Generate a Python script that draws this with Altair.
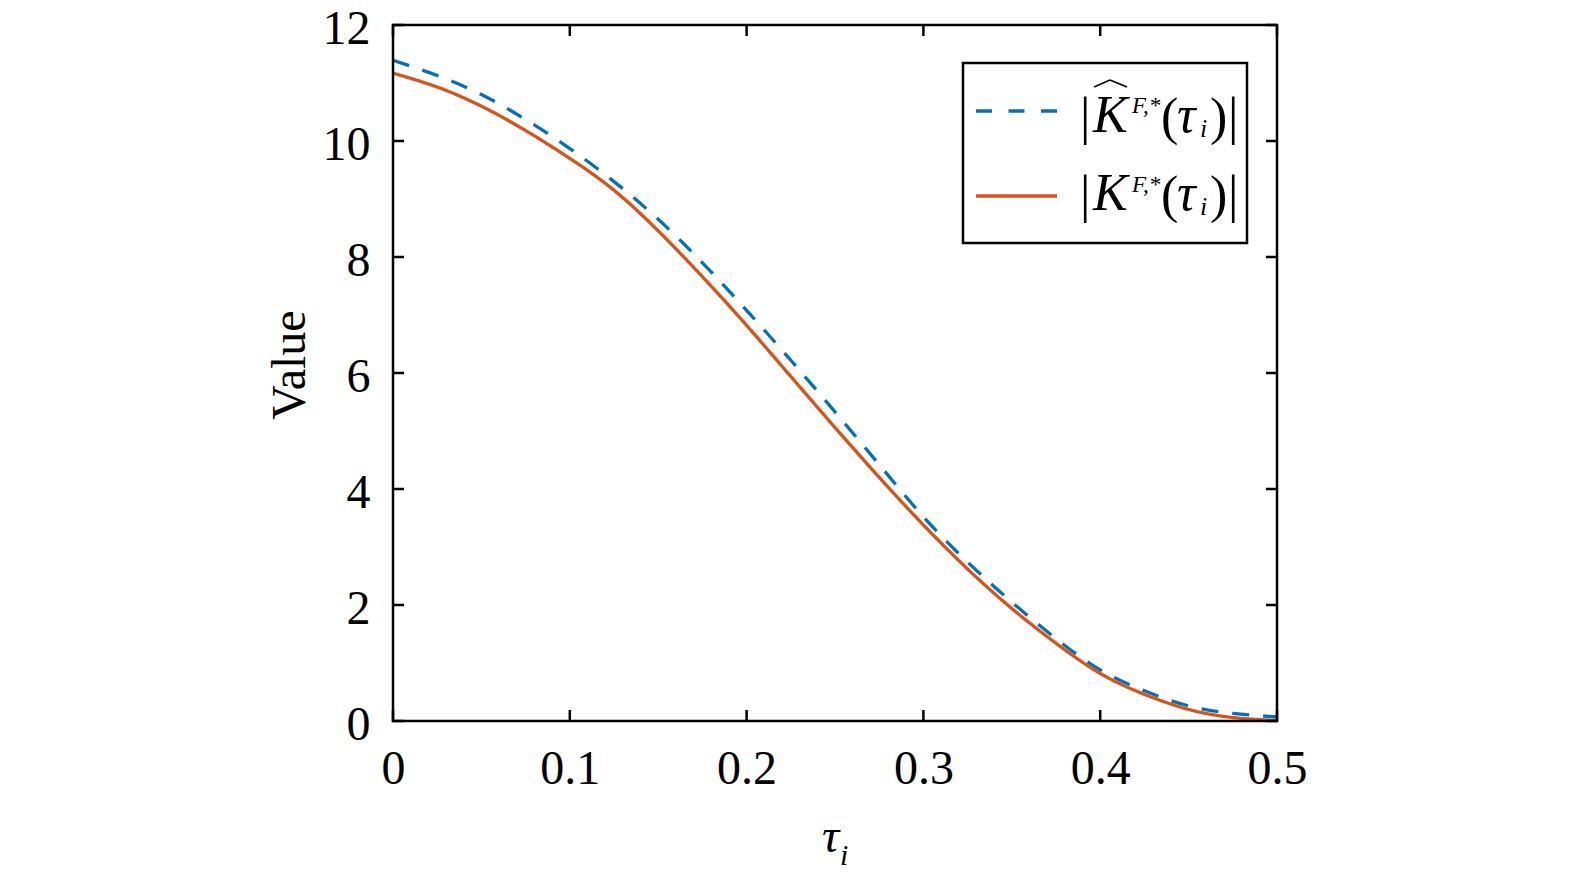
import altair as alt
import pandas as pd

# ---- data ----
tau = [0.0, 0.025, 0.05, 0.075, 0.1, 0.125, 0.15, 0.175, 0.2, 0.225, 0.25,
       0.275, 0.3, 0.325, 0.35, 0.375, 0.4, 0.425, 0.45, 0.475, 0.5]
k_hat = [11.39, 11.13, 10.80, 10.37, 9.87, 9.30, 8.65, 7.90, 7.08, 6.22, 5.33,
         4.42, 3.52, 2.74, 2.05, 1.42, 0.88, 0.52, 0.26, 0.13, 0.07]
k_true = [11.17, 10.93, 10.60, 10.18, 9.70, 9.15, 8.45, 7.66, 6.82, 5.94, 5.06,
          4.20, 3.38, 2.62, 1.94, 1.34, 0.82, 0.46, 0.20, 0.06, 0.01]
x_ticks = [0, 0.1, 0.2, 0.3, 0.4, 0.5]
y_ticks = [0, 2, 4, 6, 8, 10, 12]
series_names = ["khat", "k"]

BLUE = "#0072BD"
ORANGE = "#D95319"
FONT = "Liberation Serif"
W, H = 884, 696
TL = 11  # tick length

df = pd.concat([
    pd.DataFrame({"tau": tau, "value": k_hat, "series": series_names[0]}),
    pd.DataFrame({"tau": tau, "value": k_true, "series": series_names[1]}),
])

xscale = alt.Scale(domain=[0, 0.5], nice=False, zero=False)
yscale = alt.Scale(domain=[0, 12], nice=False)

xaxis = alt.Axis(values=x_ticks, title=None, ticks=False, domain=False, grid=False,
                 labelFont=FONT, labelFontSize=48, labelColor="black",
                 labelPadding=24, labelFlush=False, labelOverlap=False,
                 labelExpr="datum.value == 0 ? '0' : format(datum.value, '.1f')")
yaxis = alt.Axis(values=y_ticks, title=None, ticks=False, domain=False, grid=False,
                 labelFont=FONT, labelFontSize=48, labelColor="black",
                 labelPadding=23, labelFlush=False, labelOverlap=False, format="d",
                 labelBaseline="alphabetic", labelOffset=18)

lines = alt.Chart(df).mark_line(strokeWidth=3.3, interpolate="natural", clip=True).encode(
    x=alt.X("tau:Q", scale=xscale, axis=xaxis),
    y=alt.Y("value:Q", scale=yscale, axis=yaxis),
    color=alt.Color("series:N", scale=alt.Scale(domain=series_names, range=[BLUE, ORANGE]), legend=None),
    strokeDash=alt.StrokeDash("series:N", scale=alt.Scale(domain=series_names, range=[[17, 14], [1, 0]]), legend=None),
    detail="series:N",
)

xt = pd.DataFrame({"t": x_ticks})
yt = pd.DataFrame({"v": y_ticks})
tick_style = dict(color="black", strokeWidth=2.5)
xt_bottom = alt.Chart(xt).mark_rule(**tick_style).encode(
    x=alt.X("t:Q", scale=xscale), y=alt.value(H), y2=alt.value(H - TL))
xt_top = alt.Chart(xt).mark_rule(**tick_style).encode(
    x=alt.X("t:Q", scale=xscale), y=alt.value(0), y2=alt.value(TL))
yt_left = alt.Chart(yt).mark_rule(**tick_style).encode(
    y=alt.Y("v:Q", scale=yscale), x=alt.value(0), x2=alt.value(TL))
yt_right = alt.Chart(yt).mark_rule(**tick_style).encode(
    y=alt.Y("v:Q", scale=yscale), x=alt.value(W), x2=alt.value(W - TL))

one = pd.DataFrame({"a": [0]})

frame = alt.Chart(one).mark_rect(fill=None, filled=False, stroke="black", strokeWidth=2.5).encode(
    x=alt.value(0), x2=alt.value(W), y=alt.value(0), y2=alt.value(H))


def txt(s, x, y, size=48, style="normal", align="left", angle=0, baseline="alphabetic"):
    return alt.Chart(one).mark_text(
        text=s, font=FONT, fontSize=size, fontStyle=style, align=align,
        baseline=baseline, angle=angle, color="black"
    ).encode(x=alt.value(x), y=alt.value(y))


# axis titles
ytitle = txt("Value", -88, 340, align="center", angle=270)
xtitle_tau = txt("τ", 429, 827, style="italic")
xtitle_i = txt("i", 447, 840, size=30, style="italic")

# legend box
legend_box = alt.Chart(one).mark_rect(fill="white", stroke="black", strokeWidth=2.5).encode(
    x=alt.value(570), x2=alt.value(854), y=alt.value(38), y2=alt.value(218))
leg_blue = alt.Chart(one).mark_rule(color=BLUE, strokeWidth=3.3, strokeDash=[16, 16.5]).encode(
    x=alt.value(583), x2=alt.value(664), y=alt.value(86))
leg_orange = alt.Chart(one).mark_rule(color=ORANGE, strokeWidth=3.3).encode(
    x=alt.value(583), x2=alt.value(664), y=alt.value(171))


def legend_row(base, sup_base, sub_base):
    return [
        txt("|", 687, base + 2, size=52),
        txt("K", 700, base, size=52, style="italic"),
        txt("F,*", 739, sup_base, size=23, style="italic"),
        txt("(", 768, base + 2, size=52),
        txt("τ", 784, base, size=52, style="italic"),
        txt("i", 807, sub_base, size=26, style="italic"),
        txt(")", 817, base + 2, size=52),
        txt("|", 835, base + 2, size=52),
    ]


row1 = legend_row(107, 88, 112)
row2 = legend_row(185, 167, 190)
hat1 = alt.Chart(one).mark_rule(color="black", strokeWidth=1.6).encode(
    x=alt.value(701), y=alt.value(62), x2=alt.value(717), y2=alt.value(55))
hat2 = alt.Chart(one).mark_rule(color="black", strokeWidth=1.6).encode(
    x=alt.value(717), y=alt.value(55), x2=alt.value(734), y2=alt.value(62))

chart = alt.layer(
    lines, xt_bottom, xt_top, yt_left, yt_right, frame,
    ytitle, xtitle_tau, xtitle_i,
    legend_box, leg_blue, leg_orange, *row1, *row2, hat1, hat2,
).properties(
    width=W, height=H,
    autosize=alt.AutoSizeParams(type="none"),
    padding={"left": 385, "top": 17, "right": 80, "bottom": 150},
).configure_view(stroke=None).configure(background="white")

chart.save("out.html", embed_options={"renderer": "svg", "actions": False})
